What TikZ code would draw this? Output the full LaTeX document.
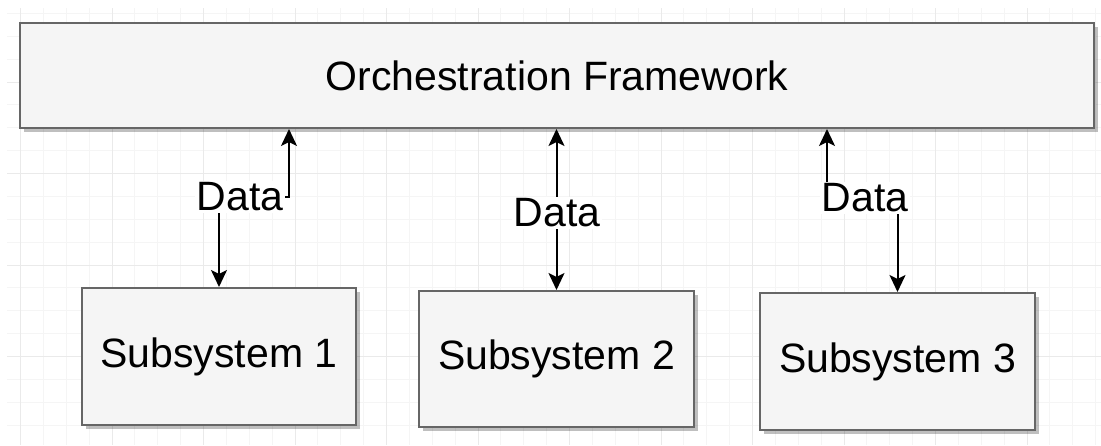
\documentclass[tikz,border=0pt]{standalone}
\usepackage{fontspec}
\setmainfont{Liberation Sans}
\usetikzlibrary{arrows.meta,shadows}
\definecolor{boxfill}{HTML}{F5F5F5}
\definecolor{boxline}{HTML}{666666}
\definecolor{gridminor}{HTML}{F5F5F5}
\definecolor{gridmajor}{HTML}{EAEAEA}
\tikzset{
  block/.style={draw=boxline, fill=boxfill, line width=2pt, inner sep=0pt,
    font=\fontsize{41}{49}\selectfont,
    drop shadow={shadow xshift=4pt, shadow yshift=-4pt, fill=black, opacity=0.25}},
  link/.style={draw=black, line width=2pt,
    {Stealth[length=17pt,width=16pt,inset=4pt]}-{Stealth[length=17pt,width=16pt,inset=4pt]}},
  datalabel/.style={fill=white, inner sep=2pt, font=\fontsize{41}{49}\selectfont}
}
\begin{document}
\begin{tikzpicture}[x=1pt, y=-1pt]
\useasboundingbox (0,0) rectangle (1101,445);
\fill[white] (0,0) rectangle (1101,445);
\begin{scope}
\clip (7,8) rectangle (1101,445);
\foreach \i in {0,...,48} {
  \draw[gridminor, line width=1pt] (20.5+22.875*\i-22.875,8) -- (20.5+22.875*\i-22.875,445);
}
\foreach \i in {0,...,20} {
  \draw[gridminor, line width=1pt] (7,13.4+22.875*\i) -- (1101,13.4+22.875*\i);
}
\foreach \i in {0,...,12} {
  \draw[gridmajor, line width=1pt] (20.5+91.5*\i,8) -- (20.5+91.5*\i,445);
}
\foreach \i in {0,...,5} {
  \draw[gridmajor, line width=1pt] (7,-9.5+91.5*\i) -- (1101,-9.5+91.5*\i);
}
\end{scope}
\node[block, minimum width=1074pt, minimum height=105pt] (frame) at (557,75.5) {Orchestration Framework};
\node[block, minimum width=274pt, minimum height=137pt] (sub1) at (219,356.5) {Subsystem 1};
\node[block, minimum width=275pt, minimum height=136pt] (sub2) at (556.5,359) {Subsystem 2};
\node[block, minimum width=275pt, minimum height=137pt] (sub3) at (897.5,361.5) {Subsystem 3};
\coordinate (bend1) at (289,197);
\coordinate (bend3) at (827,198);
\draw[link] (sub1.north) |- (bend1) -- (bend1 |- frame.south);
\draw[link] (sub2.north) -- (sub2.north |- frame.south);
\draw[link] (sub3.north) |- (bend3) -- (bend3 |- frame.south);
\node[datalabel] (lab1) at (240,197) {Data};
\node[datalabel] (lab2) at (557,213) {Data};
\node[datalabel] (lab3) at (865,198) {Data};
\end{tikzpicture}
\end{document}
